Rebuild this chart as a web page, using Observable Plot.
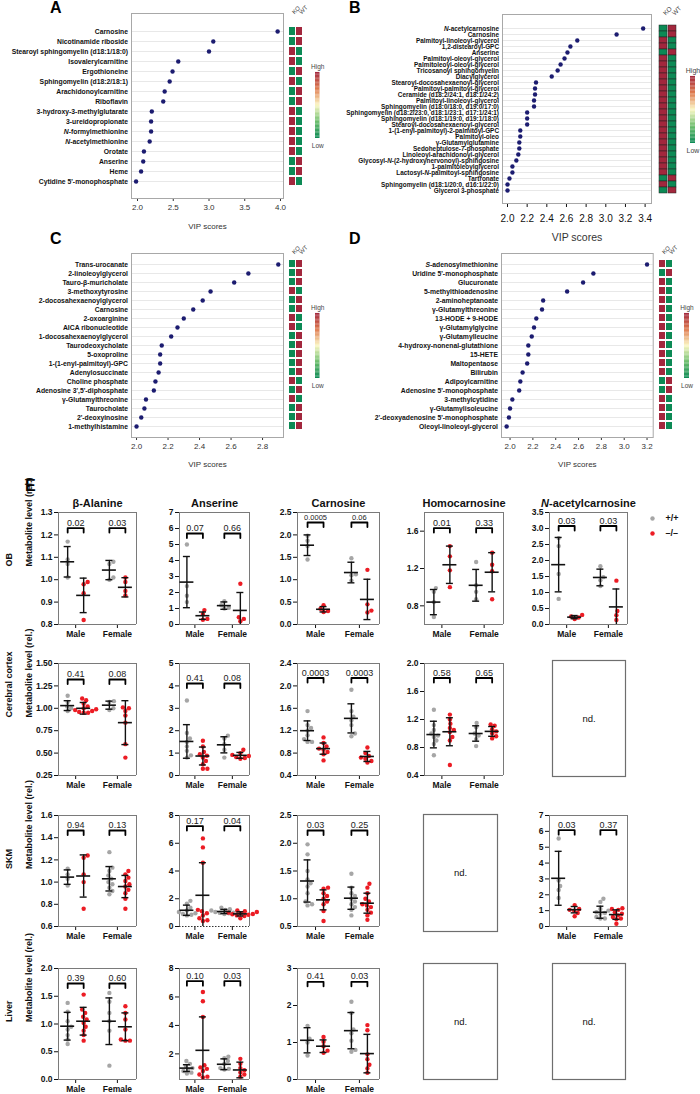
<!DOCTYPE html>
<html><head><meta charset="utf-8">
<script src="https://cdn.jsdelivr.net/npm/d3@7"></script>
<script src="https://cdn.jsdelivr.net/npm/@observablehq/plot@0.6"></script>
<style>
body{margin:0;background:#fff;}
#fig{position:relative;width:700px;height:1094px;overflow:hidden;background:#fff;font-family:"Liberation Sans",Arial,sans-serif;}
.box{position:absolute;}
.box svg{overflow:visible;display:block;}
.letter{position:absolute;font:bold 16px "Liberation Sans",Arial,sans-serif;line-height:1;color:#000;}
.vip [aria-label^="y-axis"] text{font-weight:bold;fill:#111;font-size:6.8px;}
.vipB [aria-label^="y-axis"] text{font-size:6.4px;}
.ep [aria-label^="y-axis"] text,.ep [aria-label^="x-axis"] text{font-weight:bold;}
</style></head>
<body><div id="fig"></div>
<script>
// ---------------- VIP data ----------------
const vipANames = ["Carnosine","Nicotinamide riboside","Stearoyl sphingomyelin (d18:1/18:0)","Isovalerylcarnitine","Ergothioneine","Sphingomyelin (d18:2/18:1)","Arachidonoylcarnitine","Riboflavin","3-hydroxy-3-methylglutarate","3-ureidopropionate","N-formylmethionine","N-acetylmethionine","Orotate","Anserine","Heme","Cytidine 5'-monophosphate"];
const vipAScores = [3.96,3.06,3.00,2.57,2.49,2.45,2.38,2.36,2.20,2.19,2.19,2.17,2.09,2.08,2.05,1.98];
const vipAKoHigh = [0,0,1,1,0,1,0,0,1,1,1,1,1,0,0,1];

const vipBNames = ["N-acetylcarnosine","Carnosine","Palmitoyl-linoleoyl-glycerol","1,2-distearoyl-GPC","Anserine","Palmitoyl-oleoyl-glycerol","Palmitoleoyl-oleoyl-glycerol","Tricosanoyl sphingomyelin","Diacylglycerol","Stearoyl-docosahexaenoyl-glycerol","Palmitoyl-palmitoyl-glycerol","Ceramide (d18:2/24:1, d18:1/24:2)","Palmitoyl-linoleoyl-glycerol","Sphingomyelin (d18:0/18:0, d19:0/17:0)","Sphingomyelin (d18:2/23:0, d18:1/23:1, d17:1/24:1)","Sphingomyelin (d18:1/19:0, d19:1/18:0)","Stearoyl-docosahexaenoyl-glycerol","1-(1-enyl-palmitoyl)-2-palmitoyl-GPC","Palmitoyl-oleo","γ-Glutamylglutamine","Sedoheptulose-7-phosphate","Linoleoyl-arachidonoyl-glycerol","Glycosyl-N-(2-hydroxynervonoyl)-sphingosine","1-palmitoleoylglycerol","Lactosyl-N-palmitoyl-sphingosine","Tartronate","Sphingomyelin (d18:1/20:0, d16:1/22:0)","Glycerol 3-phosphate"];
const vipBScores = [3.38,3.11,2.71,2.64,2.61,2.58,2.54,2.51,2.45,2.29,2.28,2.28,2.27,2.27,2.20,2.20,2.20,2.13,2.13,2.12,2.12,2.11,2.09,2.05,2.05,2.02,2.00,2.00];
const vipBKoHigh = [0,0,1,1,0,1,1,1,1,1,1,1,1,1,1,1,1,1,1,1,1,1,1,1,1,0,1,0];

const vipCNames = ["Trans-urocanate","2-linoleoylglycerol","Tauro-β-muricholate","3-methoxytyrosine","2-docosahexaenoylglycerol","Carnosine","2-oxoarginine","AICA ribonucleotide","1-docosahexaenoylglycerol","Taurodeoxycholate","5-oxoproline","1-(1-enyl-palmitoyl)-GPC","Adenylosuccinate","Choline phosphate","Adenosine 3',5'-diphosphate","γ-Glutamylthreonine","Taurocholate","2'-deoxyinosine","1-methylhistamine"];
const vipCScores = [2.90,2.71,2.62,2.47,2.42,2.36,2.30,2.26,2.22,2.16,2.15,2.15,2.14,2.12,2.11,2.06,2.05,2.03,2.00];
const vipCKoHigh = [0,0,0,1,0,0,1,1,0,0,0,0,0,1,0,1,0,0,0];

const vipDNames = ["S-adenosylmethionine","Uridine 5'-monophosphate","Glucuronate","5-methylthioadenosine","2-aminoheptanoate","γ-Glutamylthreonine","13-HODE + 9-HODE","γ-Glutamylglycine","γ-Glutamylleucine","4-hydroxy-nonenal-glutathione","15-HETE","Maltopentaose","Bilirubin","Adipoylcarnitine","Adenosine 5'-monophosphate","3-methylcytidine","γ-Glutamylisoleucine","2'-deoxyadenosine 5'-monophosphate","Oleoyl-linoleoyl-glycerol"];
const vipDScores = [3.20,2.73,2.64,2.50,2.29,2.28,2.23,2.21,2.19,2.16,2.16,2.15,2.11,2.09,2.08,2.02,2.00,1.99,1.97];
const vipDKoHigh = [1,0,1,1,1,1,1,1,1,1,1,1,1,0,0,1,1,1,1];

const heatColumns = ["KO","WT"];
const vipATicks = [2,2.5,3,3.5,4];
const vipBTicks = [2,2.2,2.4,2.6,2.8,3,3.2,3.4];
const vipCTicks = [2,2.2,2.4,2.6,2.8];
const vipDTicks = [2,2.2,2.4,2.6,2.8,3,3.2];

// ---------------- Panel E data (order: Male +/+, Male –/–, Female +/+, Female –/–) ----------------
const GROUPS = [["Male","+/+"],["Male","–/–"],["Female","+/+"],["Female","–/–"]];
const genotypes = ["+/+","–/–"];
const sexes = ["Male","Female"];

const obBetaAlanine = [[1.17,1.09,1.07,1.01],[0.99,0.98,0.94,0.82],[1.08,1.07,1.01,1.00],[1.01,0.99,0.95,0.93]];
const obBetaAlanineStats = [[1.08,0.068],[0.93,0.077],[1.043,0.043],[0.966,0.043]];
const obBetaAlanineP = ["0.02","0.03"];
const obAnserine = [[5.0,2.4,1.8,1.4],[0.9,0.65,0.35,0.3],[1.45,1.2,1.05,1.0],[2.55,0.45,0.35,0.2]];
const obAnserineStats = [[2.65,1.6],[0.55,0.23],[1.18,0.23],[0.88,1.12]];
const obAnserineP = ["0.07","0.66"];
const obCarnosine = [[1.98,1.87,1.75,1.45],[0.43,0.35,0.30,0.28],[1.48,1.12,1.10,0.98],[1.22,0.45,0.31,0.27]];
const obCarnosineStats = [[1.77,0.23],[0.34,0.06],[1.16,0.23],[0.56,0.45]];
const obCarnosineP = ["0.0005","0.06"];
const obHomocarnosine = [[0.99,0.95,0.84,0.68],[1.44,1.33,1.18,1.0],[1.27,1.02,0.95,0.87],[1.37,1.24,1.17,0.87]];
const obHomocarnosineStats = [[0.84,0.135],[1.24,0.2],[1.02,0.17],[1.16,0.21]];
const obHomocarnosineP = ["0.01","0.33"];
const obAcetylcarnosine = [[2.7,2.45,1.58,0.8],[0.3,0.25,0.22,0.17],[1.82,1.48,1.38,1.2],[1.37,0.42,0.29,0.14]];
const obAcetylcarnosineStats = [[1.87,0.85],[0.23,0.05],[1.47,0.26],[0.55,0.56]];
const obAcetylcarnosineP = ["0.03","0.03"];

const ccBetaAlanine = [[1.14,1.07,1.02,1.0,0.97],[1.11,1.09,1.05,1.02,1.0,0.99,0.98,0.97,0.96,0.95,0.95],[1.08,1.07,1.0,0.98],[1.01,1.0,0.97,0.92,0.84,0.6,0.45]];
const ccBetaAlanineStats = [[1.03,0.055],[1.0,0.065],[1.035,0.045],[0.84,0.245]];
const ccBetaAlanineP = ["0.41","0.08"];
const ccAnserine = [[3.35,1.9,1.65,1.5,1.3,1.1,0.9,0.8],[1.55,1.3,1.05,0.95,0.88,0.8,0.65,0.5,0.3,0.3],[1.78,1.65,1.4,1.15,0.8],[1.15,1.0,0.92,0.87,0.82,0.78,0.75]];
const ccAnserineStats = [[1.52,0.75],[0.87,0.4],[1.37,0.36],[0.9,0.13]];
const ccAnserineP = ["0.41","0.08"];
const ccCarnosine = [[1.55,1.3,1.25,1.2,1.12,1.05,1.0,1.0],[1.08,0.98,0.92,0.88,0.86,0.82,0.78,0.67],[1.93,1.55,1.45,1.38,1.3,1.15,1.1],[0.9,0.8,0.75,0.72,0.7,0.66,0.63]];
const ccCarnosineStats = [[1.2,0.175],[0.88,0.1],[1.42,0.26],[0.74,0.09]];
const ccCarnosineP = ["0.0003","0.0003"];
const ccHomocarnosine = [[1.34,1.12,1.05,1.0,0.97,0.95,0.9,0.85,0.69],[1.27,1.2,1.14,1.08,1.05,1.02,0.95,0.9,0.55],[1.15,1.09,1.0,0.97,0.92,0.82],[1.13,1.11,1.06,1.03,1.0,0.96,0.93]];
const ccHomocarnosineStats = [[0.985,0.19],[1.025,0.2],[1.0,0.11],[1.03,0.07]];
const ccHomocarnosineP = ["0.58","0.65"];

const skmBetaAlanine = [[1.12,1.07,1.03,0.97],[1.24,1.22,1.07,1.0,0.76],[1.27,1.13,1.1,1.06,1.03,1.0,0.98,0.95,0.92,0.89],[1.1,1.07,1.04,1.01,0.98,0.96,0.93,0.9,0.85,0.76]];
const skmBetaAlanineStats = [[1.045,0.065],[1.055,0.19],[1.03,0.11],[0.96,0.1]];
const skmBetaAlanineP = ["0.94","0.13"];
const skmAnserine = [[1.85,1.65,1.35,1.15,1.05,0.95,0.9,0.85,0.8],[6.35,5.7,4.6,1.2,1.1,0.95,0.8,0.6,0.45,0.4],[1.35,1.25,1.2,1.15,1.1,1.05,1.0,0.98,0.95,0.9],[1.15,1.1,1.05,1.0,0.95,0.9,0.88,0.85,0.8,0.75,0.6]];
const skmAnserineStats = [[1.17,0.37],[2.25,2.35],[1.08,0.15],[0.91,0.15]];
const skmAnserineP = ["0.17","0.04"];
const skmCarnosine = [[1.98,1.8,1.5,1.35,1.28,1.22,1.1,0.95,0.9,0.88],[1.2,1.18,1.1,1.05,1.0,0.95,0.9,0.78,0.6],[1.45,1.2,1.1,1.05,1.0,0.95,0.9,0.85,0.8,0.7],[1.27,1.2,1.1,1.0,0.95,0.9,0.88,0.85,0.8,0.75,0.7,0.62]];
const skmCarnosineStats = [[1.32,0.38],[0.98,0.18],[1.01,0.2],[0.92,0.18]];
const skmCarnosineP = ["0.03","0.25"];
const skmAcetylcarnosine = [[5.55,2.9,2.55,2.3,1.8],[1.35,1.1,1.05,1.0,0.85,0.65],[1.75,1.55,1.1,1.0,0.9,0.85,0.8,0.6,0.5,0.5],[1.15,1.1,1.05,0.9,0.8,0.7,0.6,0.5,0.45,0.17]];
const skmAcetylcarnosineStats = [[3.04,1.7],[1.06,0.2],[0.9,0.38],[0.75,0.3]];
const skmAcetylcarnosineP = ["0.03","0.37"];

const livBetaAlanine = [[1.38,1.22,1.05,0.95,0.9,0.8,0.72,0.64],[1.53,1.26,1.2,1.13,1.08,1.02,0.95,0.88,0.8,0.7],[1.56,1.4,1.2,1.05,0.88,0.25],[1.32,1.2,1.08,0.9,0.72,0.7,0.7]];
const livBetaAlanineStats = [[0.96,0.25],[1.05,0.25],[1.05,0.42],[0.95,0.25]];
const livBetaAlanineP = ["0.39","0.60"];
const livAnserine = [[1.5,1.3,1.15,1.0,0.9,0.8,0.68,0.62],[6.35,5.7,4.6,1.2,1.05,0.95,0.8,0.55,0.4,0.35],[1.8,1.7,1.5,1.3,1.0,0.95,0.9],[1.65,1.3,1.0,0.85,0.7,0.55,0.4]];
const livAnserineStats = [[1.0,0.24],[2.25,2.35],[1.27,0.38],[0.87,0.55]];
const livAnserineP = ["0.10","0.03"];
const livCarnosine = [[1.45,1.1,1.0,0.65],[1.15,1.02,0.9,0.78,0.72],[2.1,1.8,1.35,1.25,1.05,0.8,0.75],[1.47,1.33,0.68,0.55,0.4,0.3,0.18]];
const livCarnosineStats = [[1.06,0.34],[0.9,0.17],[1.32,0.49],[0.7,0.52]];
const livCarnosineP = ["0.41","0.03"];

const metaboliteTitles = ["β-Alanine","Anserine","Carnosine","Homocarnosine","N-acetylcarnosine"];
const tissueLabels = ["OB","Cerebral cortex","SKM","Liver"];
const yAxisTitle = "Metabolite level (rel.)";

// ---------------- helpers ----------------
const FONT = '"Liberation Sans", Arial, Helvetica, sans-serif';
const RAMP_STOPS = [0,0.25,0.5,0.75,1];
const RAMP_COLORS = ["#0c8a55","#6bbd6c","#fbf7c4","#df7a4e","#a2273d"];
const fig = document.getElementById("fig");

function italicize(root){
  root.querySelectorAll("text").forEach(t=>{
    if (t.childNodes.length!==1 || t.firstChild.nodeType!==3) return;
    const s=t.textContent; const re=/(^|-)([NS])(?=-)/g;
    if(!re.test(s)) return; re.lastIndex=0;
    t.textContent="";
    const add=(str,it)=>{ if(!str) return; const ts=document.createElementNS("http://www.w3.org/2000/svg","tspan"); ts.textContent=str; if(it) ts.setAttribute("font-style","italic"); t.appendChild(ts); };
    let last=0,m;
    while((m=re.exec(s))){ const i=m.index+m[1].length; add(s.slice(last,i)); add(s[i],true); last=i+1; }
    add(s.slice(last));
  });
}
function place(node,left,top,cls){
  const d=document.createElement("div");
  d.className="box"+(cls?" "+cls:"");
  d.style.left=left+"px"; d.style.top=top+"px";
  d.appendChild(node); fig.appendChild(d); italicize(node); return d;
}
function letter(t,left,top){ const d=document.createElement("div"); d.className="letter"; d.textContent=t; d.style.left=left+"px"; d.style.top=top+"px"; fig.appendChild(d); }

function vipMain(names,scores,ticks,L){
  const idx=d3.range(names.length);
  return Plot.plot({
    width:L.width,height:L.height,marginTop:L.mt,marginBottom:L.height-L.fb,marginLeft:L.ml,marginRight:L.mr,
    style:{fontFamily:FONT,fontSize:L.tickFont+"px",background:"transparent",color:L.tickColor},
    x:{domain:L.xdom,ticks:ticks,tickFormat:d3.format(".1f"),tickSize:L.tickSize,tickPadding:L.tickPadding,label:null},
    y:{type:"point",domain:idx,padding:L.pad,tickFormat:i=>names[i],tickSize:0,tickPadding:3.5,label:null},
    marks:[
      Plot.ruleY(idx,{y:d=>d,stroke:"#e2e2e2",strokeWidth:0.8}),
      Plot.frame({stroke:"#a8a8a8"}),
      Plot.dot(idx,{x:i=>scores[i],y:i=>i,r:2.2,fill:"#1c1c70"}),
      Plot.text(["VIP scores"],{frameAnchor:"bottom",dy:L.labelDy,text:d=>d,fontSize:L.labelFont,fill:"#333"})
    ]
  });
}
function vipHeat(koHigh,L){
  const idx=d3.range(koHigh.length);
  const cells=idx.flatMap(i=>[{g:heatColumns[0],i,v:koHigh[i]},{g:heatColumns[1],i,v:1-koHigh[i]}]);
  const po=(2*L.pad-1+L.pi)/2;
  return Plot.plot({
    width:L.width,height:L.fb,marginTop:L.mt,marginBottom:0,marginLeft:2,marginRight:2,
    style:{fontFamily:FONT,background:"transparent"},
    x:{type:"band",domain:heatColumns,paddingInner:L.xpi,paddingOuter:0,axis:null},
    y:{type:"band",domain:idx,paddingInner:L.pi,paddingOuter:po,axis:null},
    color:{type:"linear",domain:RAMP_STOPS,range:RAMP_COLORS},
    marks:[
      Plot.cell(cells,{x:"g",y:"i",fill:"v",inset:0,stroke:L.sep?"#222":"none",strokeWidth:0.5}),
      Plot.text(heatColumns,{x:d=>d,frameAnchor:"top",text:d=>d,rotate:-45,textAnchor:"start",dy:-2,dx:-1,fontSize:L.hf,fill:"#444"})
    ]
  });
}
function vipLegend(L){
  const steps=d3.range(0,1,0.02);
  return Plot.plot({
    width:L.width,height:L.height,marginTop:12,marginBottom:12,marginLeft:L.ml,marginRight:L.mr,
    style:{fontFamily:FONT,background:"transparent"},
    x:{domain:[0,1],axis:null},y:{domain:[0,1],axis:null},
    color:{type:"linear",domain:RAMP_STOPS,range:RAMP_COLORS},
    marks:[
      Plot.rect(steps,{x1:0,x2:1,y1:d=>d,y2:d=>d+0.021,fill:d=>d+0.01}),
      Plot.text(["High"],{x:0.5,y:1,dy:-6,text:d=>d,fontSize:L.f,fill:"#444"}),
      Plot.text(["Low"],{x:0.5,y:0,dy:7,text:d=>d,fontSize:L.f,fill:"#444"})
    ]
  });
}

function swarm(vals,toPx,d){
  const order=vals.map((v,i)=>[toPx(v),i]).sort((a,b)=>a[0]-b[0]);
  const placed=[],off=new Array(vals.length).fill(0);
  for(const [py,i] of order){
    for(let k=0;k<80;k++){
      const cand=(k%2?1:-1)*Math.ceil(k/2)*0.5;
      if(placed.every(([px,qy])=>(px-cand)**2+(qy-py)**2>=d*d)){off[i]=cand;placed.push([cand,py]);break;}
    }
  }
  return off;
}

function ePlot(c){
  const [fx0,fx1]=c.fx,[fy0,fy1]=c.fy;
  const fw=fx1-fx0,fh=fy1-fy0;
  const mt=26,mb=18,mr=6,ml=c.rowLabel?fx0:40;
  const [d0,d1]=c.dom,span=d1-d0;
  const cx=g=>(GROUPS[g][0]===sexes[0]?0.22:0.755)*fw+(GROUPS[g][1]===genotypes[0]?-8:8);
  const toPx=v=>(v-d0)/span*fh;
  const pts=[];
  c.data.forEach((vals,g)=>{ const off=swarm(vals,toPx,4.2); vals.forEach((v,i)=>pts.push({x:cx(g)+off[i],v,geno:GROUPS[g][1]})); });
  const st=c.stats.map(([m,s],g)=>({x:cx(g),m,lo:Math.max(m-s,d0),hi:Math.min(m+s,d1),cl:m-s<d0,ch:m+s>d1}));
  const caps=st.flatMap(d=>[...(d.ch?[]:[{x:d.x,y:d.hi}]),...(d.cl?[]:[{x:d.x,y:d.lo}])]);
  const yTop=d1-c.brk/fh*span,yLeg=yTop-4.5/fh*span;
  const br=[0,2].flatMap(g=>{const a=cx(g),b=cx(g+1);return [{k:g,x:a,y:yLeg},{k:g,x:a,y:yTop},{k:g,x:b,y:yTop},{k:g,x:b,y:yLeg}];});
  const ptxt=[0,2].map((g,j)=>({x:(cx(g)+cx(g+1))/2,y:yTop,t:c.p[j]}));
  const marks=[
    Plot.ruleX([0,fw],{x:d=>d,stroke:"#7a7a7a",strokeWidth:1}),
    Plot.ruleY([d1],{y:d=>d,stroke:"#7a7a7a",strokeWidth:1}),
    Plot.ruleY([d0],{y:d=>d,stroke:c.dashBottom?"#333":"#7a7a7a",strokeWidth:1,strokeDasharray:c.dashBottom?"1.5,1.5":"none"}),
    Plot.dot(pts,{x:"x",y:"v",fill:"geno",r:2.2}),
    Plot.ruleX(st,{x:"x",y1:"lo",y2:"hi",stroke:"#111",strokeWidth:1.4}),
    Plot.ruleY(st,{y:"m",x1:d=>d.x-7,x2:d=>d.x+7,stroke:"#111",strokeWidth:1.6}),
    Plot.ruleY(caps,{y:"y",x1:d=>d.x-3.5,x2:d=>d.x+3.5,stroke:"#111",strokeWidth:1.4}),
    Plot.line(br,{x:"x",y:"y",z:"k",stroke:"#000",strokeWidth:1.8}),
    Plot.text(ptxt,{x:"x",y:"y",text:"t",dy:-2.5,lineAnchor:"bottom",fontSize:c.pFont||9,fill:"#222"})
  ];
  if(c.title) marks.push(Plot.text([c.title],{frameAnchor:"top",dy:-13,text:d=>d,fontWeight:"bold",fontSize:11,fill:"#111"}));
  if(c.rowLabel){
    marks.push(Plot.text([yAxisTitle],{frameAnchor:"left",dx:-29,dy:-2,rotate:-90,text:d=>d,fontWeight:"bold",fontSize:9,fill:"#111"}));
    marks.push(Plot.text([c.rowLabel],{frameAnchor:"left",dx:-49,dy:-2,rotate:-90,text:d=>d,fontWeight:"bold",fontSize:9,fill:"#111"}));
  }
  const svg=Plot.plot({
    width:ml+fw+mr,height:mt+fh+mb,marginTop:mt,marginBottom:mb,marginLeft:ml,marginRight:mr,
    style:{fontFamily:FONT,fontSize:"8.5px",background:"transparent",color:"#111"},
    x:{domain:[0,fw],ticks:[0.22*fw,0.755*fw],tickFormat:d=>d<fw/2?sexes[0]:sexes[1],tickSize:4,tickPadding:2,label:null},
    y:{domain:c.dom,ticks:c.ticks,tickFormat:d3.format(c.fmt),tickSize:4,tickPadding:2,label:null},
    color:{domain:genotypes,range:["#a6a6a6","#ec1c24"]},
    marks
  });
  place(svg,fx0-ml,fy0-mt,"ep");
}
function ndPlot(fx,fy){
  const w=fx[1]-fx[0],h=fy[1]-fy[0];
  const svg=Plot.plot({
    width:w+2,height:h+2,margin:1,style:{fontFamily:FONT,background:"transparent"},
    x:{domain:[0,1],axis:null},y:{domain:[0,1],axis:null},
    marks:[Plot.frame({stroke:"#6e6e6e",strokeWidth:1.2}),Plot.text(["nd."],{frameAnchor:"middle",text:d=>d,fontSize:9.5,fill:"#111"})]
  });
  place(svg,fx[0]-1,fy[0]-1);
}

// ---------------- Panels A-D ----------------
letter("A",50,0); letter("B",349,0); letter("C",50,231); letter("D",349,231); letter("E",25,478);

place(vipMain(vipANames,vipAScores,vipATicks,{width:290,height:234,mt:13,fb:198,ml:131,mr:7,xdom:[1.916,4.042],pad:0.95,tickFont:8,tickColor:"#333",tickSize:3,tickPadding:3,labelDy:30,labelFont:8}),0,0,"vip");
place(vipHeat(vipAKoHigh,{width:18,mt:13,fb:198,pad:0.95,pi:0.2,xpi:0.1,hf:6}),287,0);
place(vipLegend({width:29,height:90,ml:12,mr:12.5,f:6.5}),303,60);

place(vipMain(vipBNames,vipBScores,vipBTicks,{width:355,height:247,mt:14,fb:203,ml:202,mr:4,xdom:[1.949,3.465],pad:1.0,tickFont:10,tickColor:"#111",tickSize:4,tickPadding:7,labelDy:37,labelFont:10.5}),300,0,"vip vipB");
place(vipHeat(vipBKoHigh,{width:21.5,mt:14,fb:203,pad:1.0,pi:0,xpi:0.06,hf:6.5,sep:true}),657,0);
place(vipLegend({width:20,height:91,ml:10,mr:5,f:7}),680,64);

place(vipMain(vipCNames,vipCScores,vipCTicks,{width:290,height:233,mt:13,fb:197,ml:131,mr:7,xdom:[1.968,2.933],pad:0.96,tickFont:8,tickColor:"#333",tickSize:3,tickPadding:3,labelDy:29,labelFont:8}),0,240,"vip");
place(vipHeat(vipCKoHigh,{width:18,mt:13,fb:197,pad:0.96,pi:0.2,xpi:0.1,hf:6}),287,240);
place(vipLegend({width:29,height:89,ml:12,mr:12.5,f:6.5}),303,301);

place(vipMain(vipDNames,vipDScores,vipDTicks,{width:307,height:233,mt:13,fb:197,ml:151,mr:4.3,xdom:[1.925,3.254],pad:0.95,tickFont:8,tickColor:"#333",tickSize:3,tickPadding:3,labelDy:29,labelFont:8}),350,240,"vip");
place(vipHeat(vipDKoHigh,{width:18,mt:13,fb:197,pad:0.95,pi:0.2,xpi:0.1,hf:6}),657,240);
place(vipLegend({width:25,height:89,ml:10,mr:10,f:6.5}),674,301);

// ---------------- Panel E ----------------
const COLS=[[58,136],[179,249],[297,379],[424,503],[549,627]];
const ROWS=[[512,624],[663,775],[815,926],[968,1079]];
const r=d3.range;
const ePanels=[
  {col:0,row:0,title:metaboliteTitles[0],rowLabel:tissueLabels[0],data:obBetaAlanine,stats:obBetaAlanineStats,p:obBetaAlanineP,dom:[0.8,1.3],ticks:[0.8,0.9,1.0,1.1,1.2,1.3],fmt:".1f",brk:15.6},
  {col:1,row:0,title:metaboliteTitles[1],data:obAnserine,stats:obAnserineStats,p:obAnserineP,dom:[0,7],ticks:r(0,8),fmt:"d",brk:21},
  {col:2,row:0,title:metaboliteTitles[2],data:obCarnosine,stats:obCarnosineStats,p:obCarnosineP,dom:[0,2.5],ticks:[0,0.5,1,1.5,2,2.5],fmt:".1f",brk:10,pFont:7.5},
  {col:3,row:0,title:metaboliteTitles[3],data:obHomocarnosine,stats:obHomocarnosineStats,p:obHomocarnosineP,dom:[0.6,1.8],ticks:[0.8,1.2,1.6],fmt:".1f",brk:15.6},
  {col:4,row:0,title:metaboliteTitles[4],data:obAcetylcarnosine,stats:obAcetylcarnosineStats,p:obAcetylcarnosineP,dom:[0,3.5],ticks:[0,0.5,1,1.5,2,2.5,3,3.5],fmt:".1f",brk:13.5},
  {col:0,row:1,rowLabel:tissueLabels[1],data:ccBetaAlanine,stats:ccBetaAlanineStats,p:ccBetaAlanineP,dom:[0.25,1.5],ticks:[0.25,0.5,0.75,1,1.25,1.5],fmt:".2f",brk:16},
  {col:1,row:1,data:ccAnserine,stats:ccAnserineStats,p:ccAnserineP,dom:[0,5],ticks:r(0,6),fmt:"d",brk:20},
  {col:2,row:1,data:ccCarnosine,stats:ccCarnosineStats,p:ccCarnosineP,dom:[0.4,2.4],ticks:[0.4,0.8,1.2,1.6,2.0,2.4],fmt:".1f",brk:14.5},
  {col:3,row:1,data:ccHomocarnosine,stats:ccHomocarnosineStats,p:ccHomocarnosineP,dom:[0.4,2.0],ticks:[0.4,0.8,1.2,1.6,2.0],fmt:".1f",brk:14.5},
  {col:0,row:2,rowLabel:tissueLabels[2],data:skmBetaAlanine,stats:skmBetaAlanineStats,p:skmBetaAlanineP,dom:[0.6,1.6],ticks:[0.6,0.8,1.0,1.2,1.4,1.6],fmt:".1f",brk:15},
  {col:1,row:2,data:skmAnserine,stats:skmAnserineStats,p:skmAnserineP,dom:[0,8],ticks:[0,2,4,6,8],fmt:"d",brk:10.6,dashBottom:true},
  {col:2,row:2,data:skmCarnosine,stats:skmCarnosineStats,p:skmCarnosineP,dom:[0.5,2.5],ticks:[0.5,1,1.5,2,2.5],fmt:".1f",brk:15},
  {col:4,row:2,data:skmAcetylcarnosine,stats:skmAcetylcarnosineStats,p:skmAcetylcarnosineP,dom:[0,7],ticks:r(0,8),fmt:"d",brk:14.7},
  {col:0,row:3,rowLabel:tissueLabels[3],data:livBetaAlanine,stats:livBetaAlanineStats,p:livBetaAlanineP,dom:[0,2],ticks:[0,0.5,1,1.5,2],fmt:".1f",brk:15},
  {col:1,row:3,data:livAnserine,stats:livAnserineStats,p:livAnserineP,dom:[0.2,8],ticks:[2,4,6,8],fmt:"d",brk:12.7},
  {col:2,row:3,data:livCarnosine,stats:livCarnosineStats,p:livCarnosineP,dom:[0,3],ticks:[0,1,2,3],fmt:"d",brk:13.3}
];
ePanels.forEach(c=>ePlot({...c,fx:COLS[c.col],fy:ROWS[c.row]}));

ndPlot([552,625],[660,776]);
ndPlot([423,497],[814,931]);
ndPlot([423,497],[963,1079]);
ndPlot([552,625],[963,1079]);

// legend for E
const legSvg=Plot.plot({
  width:52,height:34,marginTop:2,marginBottom:2,marginLeft:4,marginRight:4,
  style:{fontFamily:FONT,background:"transparent"},
  x:{domain:[0,1],axis:null},y:{type:"point",domain:genotypes,axis:null},
  color:{domain:genotypes,range:["#a6a6a6","#ec1c24"]},
  marks:[
    Plot.dot(genotypes,{x:0,y:d=>d,fill:d=>d,r:2.2}),
    Plot.text(genotypes,{x:0,y:d=>d,text:d=>d,dx:13,textAnchor:"start",fontWeight:"bold",fontSize:9,fill:"#111"})
  ]
});
place(legSvg,648,508);
</script></body></html>
